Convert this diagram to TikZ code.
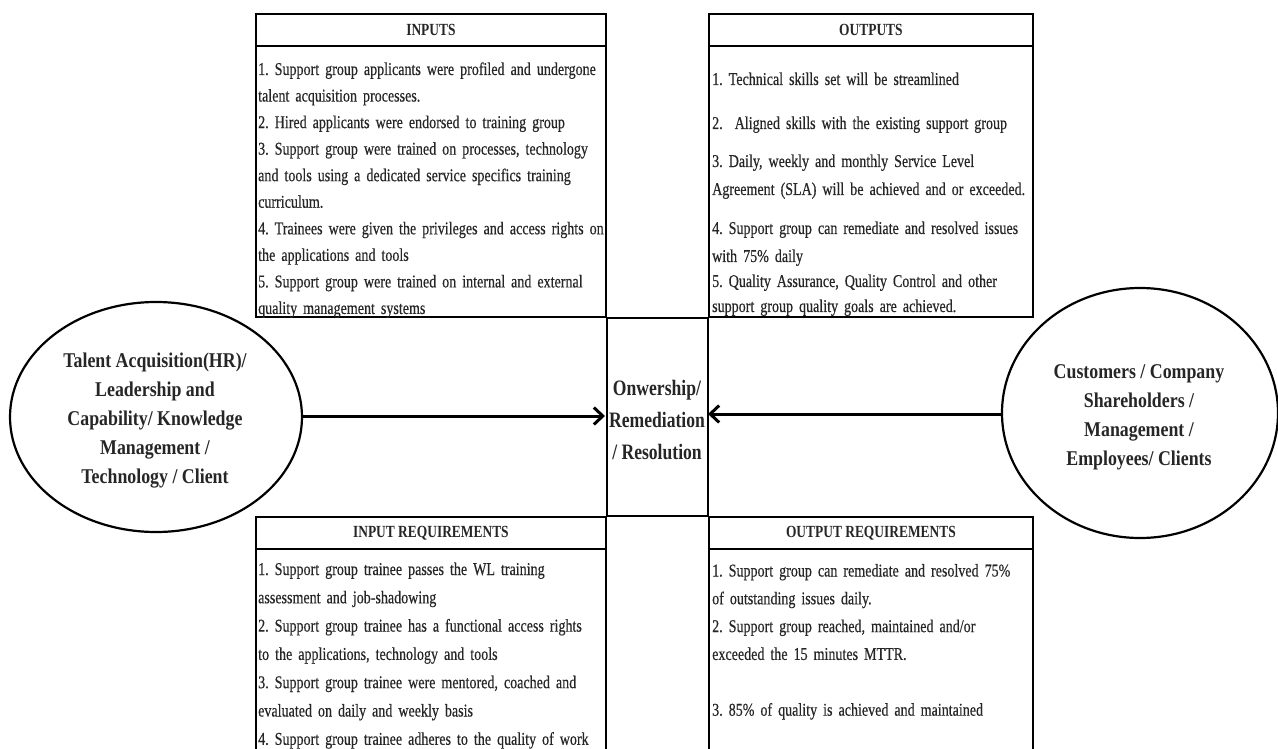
\documentclass[tikz,border=0pt]{standalone}
\usepackage{fontspec}
\setmainfont{Liberation Serif}
\newfontfamily\bodyfont[FakeStretch=0.78,FakeBold=0.4]{Liberation Serif}
\newfontfamily\headfont[FakeStretch=0.79]{Liberation Serif}
\newfontfamily\ovalfont[FakeStretch=0.85]{Liberation Serif}
\newfontfamily\hubfont[FakeStretch=0.80]{Liberation Serif}
\usetikzlibrary{arrows.meta,shapes.geometric}
% body text: 18pt, tight interword space
\newcommand\bodysize[1]{\bodyfont\fontsize{18}{#1}\selectfont\spaceskip=3.4pt plus 1pt minus 1pt\relax}

\begin{document}
\frenchspacing
\begin{tikzpicture}[x=1pt,y=-1pt,
  ink/.style={black!85},
  frame/.style={draw=black, line width=1.8pt, rectangle, inner sep=0pt, anchor=north west},
  rule/.style={draw=black, line width=1.8pt},
  headtxt/.style={ink, inner sep=0pt, font=\headfont\bfseries\fontsize{17}{20}\selectfont},
  bodytxt/.style={ink, inner sep=0pt, anchor=base west, align=left, text width=420pt},
  oval/.style={draw=black, line width=2.2pt, ellipse, inner sep=0pt},
  ovaltxt/.style={ink, inner sep=0pt, align=center, font=\ovalfont\bfseries\fontsize{21}{29}\selectfont},
  flow/.style={draw=black, line width=3pt, -{Straight Barb[length=9pt,width=17pt]}}
]
\clip (0,0) rectangle (1278,749);
\fill[white] (0,0) rectangle (1278,749);

% the four boxes
\node[frame, minimum width=350pt, minimum height=303pt] (inputs)  at (255,13)  {};
\node[frame, minimum width=324pt, minimum height=303pt] (outputs) at (708,13)  {};
\node[frame, minimum width=350pt, minimum height=260pt] (inreq)   at (255,516) {};
\node[frame, minimum width=324pt, minimum height=260pt] (outreq)  at (708,516) {};

% header rules
\foreach \b in {inputs,outputs,inreq,outreq}
  \draw[rule] ([yshift=-33pt]\b.north west) -- ([yshift=-33pt]\b.north east);

% headers
\node[headtxt] (inputsT)  at ([yshift=-17pt]inputs.north)  {INPUTS};
\node[headtxt] (outputsT) at ([yshift=-17pt]outputs.north) {OUTPUTS};
\node[headtxt] (inreqT)   at ([yshift=-17pt]inreq.north)   {INPUT REQUIREMENTS};
\node[headtxt] (outreqT)  at ([yshift=-17pt]outreq.north)  {OUTPUT REQUIREMENTS};

% grid lines joining the boxes
\draw[rule] (inputs.south east) -- (inreq.north east);
\draw[rule] (outputs.south west) -- (outreq.north west);
\draw[rule] (inputs.south east) -- (outputs.south west);
\draw[rule] (inreq.north east) -- (outreq.north west);

% box contents
\node[bodytxt, font=\bodysize{26.55}] (inputsB) at (258,75)
{1. Support group applicants were profiled and undergone\\
talent acquisition processes.\\
2. Hired applicants were endorsed to training group\\
3. Support group were trained on processes, technology\\
and tools using a dedicated service specifics training\\
curriculum.\\
4. Trainees were given the privileges and access rights on\\
the applications and tools\\
5. Support group were trained on internal and external\\
quality management systems};

\node[bodytxt, font=\bodysize{26.5}] (outputsB) at (712,85)
{1. Technical skills set will be streamlined\\[17.5pt]
2.\ \ Aligned skills with the existing support group\\[11.5pt]
3. Daily, weekly and monthly Service Level\\[1.5pt]
Agreement (SLA) will be achieved and or exceeded.\\[12.5pt]
4. Support group can remediate and resolved issues\\[1.5pt]
with 75\% daily\\[-1.5pt]
5. Quality Assurance, Quality Control and other\\[-1.5pt]
support group quality goals are achieved.};

\node[bodytxt, font=\bodysize{28.3}] (inreqB) at (258,575)
{1. Support group trainee passes the WL training\\
assessment and job-shadowing\\
2. Support group trainee has a functional access rights\\
to the applications, technology and tools\\
3. Support group trainee were mentored, coached and\\
evaluated on daily and weekly basis\\
4. Support group trainee adheres to the quality of work};

\node[bodytxt, font=\bodysize{27.8}] (outreqB) at (712,576.5)
{1. Support group can remediate and resolved 75\%\\
of outstanding issues daily.\\
2. Support group reached, maintained and/or\\
exceeded the 15 minutes MTTR.\\[28pt]
3. 85\% of quality is achieved and maintained};

% stakeholder ovals
\node[oval, minimum width=292pt, minimum height=230pt] (src) at (156,417) {};
\node[ovaltxt] (srcT) at (155,420.5)
{Talent Acquisition(HR)/\\ Leadership and\\ Capability/ Knowledge\\ Management /\\ Technology / Client};
\node[oval, minimum width=276pt, minimum height=250pt] (dst) at (1140,413) {};
\node[ovaltxt] (dstT) at (1139,417.5)
{Customers / Company\\ Shareholders /\\ Management /\\ Employees/ Clients};

% central label
\node[ink, inner sep=0pt, align=center, font=\hubfont\bfseries\fontsize{22}{32}\selectfont] (hub) at (657,420)
{Onwership/\\ Remediation\\ / Resolution};

\coordinate (hubL) at (605,416);
\coordinate (hubR) at (708,414);
\draw[flow] (src.east |- hubL) -- (hubL);
\draw[flow] (dst.west |- hubR) -- (hubR);
\end{tikzpicture}
\end{document}
